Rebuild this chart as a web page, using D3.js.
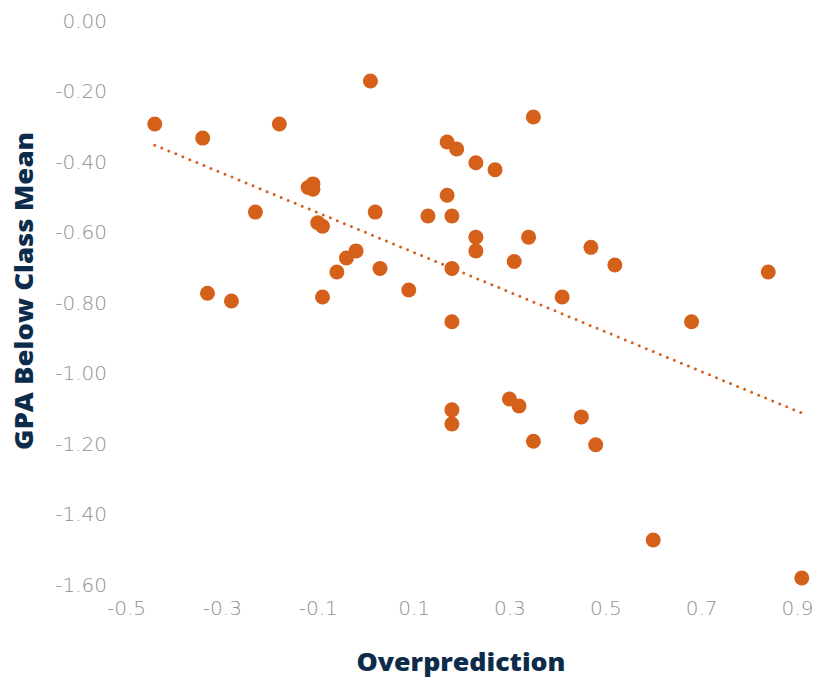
<!DOCTYPE html>
<html><head><meta charset="utf-8">
<script src="https://cdn.jsdelivr.net/npm/d3@7"></script>
<style>body{margin:0;background:#fff}</style>
</head><body>
<svg id="c" width="814" height="679"></svg>
<script>
const overprediction = [-0.44,-0.34,-0.18,0.01,-0.23,-0.12,-0.11,-0.11,-0.10,-0.09,-0.04,-0.02,-0.06,0.02,0.03,-0.33,-0.28,-0.09,0.09,
  0.35,0.17,0.19,0.23,0.27,0.17,0.13,0.18,0.23,0.23,0.34,0.47,0.52,0.31,0.18,0.41,0.84,0.18,0.68,
  0.18,0.18,0.30,0.32,0.45,0.35,0.48,0.60,0.91];
const gpaBelowMean = [-0.295,-0.335,-0.295,-0.173,-0.545,-0.475,-0.465,-0.48,-0.575,-0.585,-0.675,-0.655,-0.715,-0.545,-0.705,-0.775,-0.797,-0.786,-0.766,
  -0.275,-0.346,-0.366,-0.405,-0.425,-0.497,-0.556,-0.556,-0.616,-0.655,-0.616,-0.645,-0.695,-0.685,-0.705,-0.786,-0.715,-0.856,-0.856,
  -1.106,-1.146,-1.075,-1.095,-1.126,-1.195,-1.205,-1.475,-1.583];
const trendX = [-0.44, 0.91];
const trendY = [-0.355, -1.115];
const xTicks = [-0.5,-0.3,-0.1,0.1,0.3,0.5,0.7,0.9];
const yTicks = [0,-0.2,-0.4,-0.6,-0.8,-1.0,-1.2,-1.4,-1.6];

const svg = d3.select("#c");
const x = d3.scaleLinear().domain([-0.5,0.9]).range([126,797]);
const y = d3.scaleLinear().domain([0,-1.6]).range([20,584]);
const orange = "#D5601A";

const tickFont = "'DejaVu Sans', sans-serif";
const yAxis = d3.axisLeft(y).tickValues(yTicks).tickSize(0).tickPadding(0);
const gy = svg.append("g").attr("transform","translate(107,0)").call(yAxis);
gy.select(".domain").remove();
gy.selectAll("text").attr("fill","#8f8f8f").style("font-family",tickFont).style("font-weight","200").style("font-size","20px").attr("dy","0.36em")
  .text(d => d3.format(".2f")(d).replace("−","-"));

const xAxis = d3.axisBottom(x).tickValues(xTicks).tickFormat(d=>d3.format(".1f")(d).replace("−","-")).tickSize(0).tickPadding(0);
const gx = svg.append("g").attr("transform","translate(0,601)").call(xAxis);
gx.select(".domain").remove();
gx.selectAll("text").attr("fill","#8f8f8f").style("font-family",tickFont).style("font-weight","200").style("font-size","20px").attr("dy","0.71em");

// trendline
svg.append("line")
  .attr("x1",x(trendX[0])).attr("y1",y(trendY[0]))
  .attr("x2",x(trendX[1])).attr("y2",y(trendY[1]))
  .attr("stroke",orange).attr("stroke-width",3).attr("stroke-linecap","round")
  .attr("stroke-dasharray","0,7.6");

svg.append("g").selectAll("circle").data(overprediction.map((v,i)=>[v,gpaBelowMean[i]]))
  .join("circle").attr("cx",d=>x(d[0])).attr("cy",d=>y(d[1])).attr("r",7.5).attr("fill",orange);

const titleFont = "'Open Sans', sans-serif";
svg.append("text").attr("x",461).attr("y",671).attr("text-anchor","middle")
  .attr("fill","#0d2b4a").style("font-family",titleFont).style("font-weight","800").style("font-size","24px")
  .attr("textLength",209).attr("lengthAdjust","spacingAndGlyphs")
  .text("Overprediction");
svg.append("text").attr("transform","translate(33,291) rotate(-90)").attr("text-anchor","middle")
  .attr("fill","#0d2b4a").style("font-family",titleFont).style("font-weight","800").style("font-size","24px")
  .attr("textLength",318).attr("lengthAdjust","spacingAndGlyphs")
  .text("GPA Below Class Mean");
</script>
</body></html>
